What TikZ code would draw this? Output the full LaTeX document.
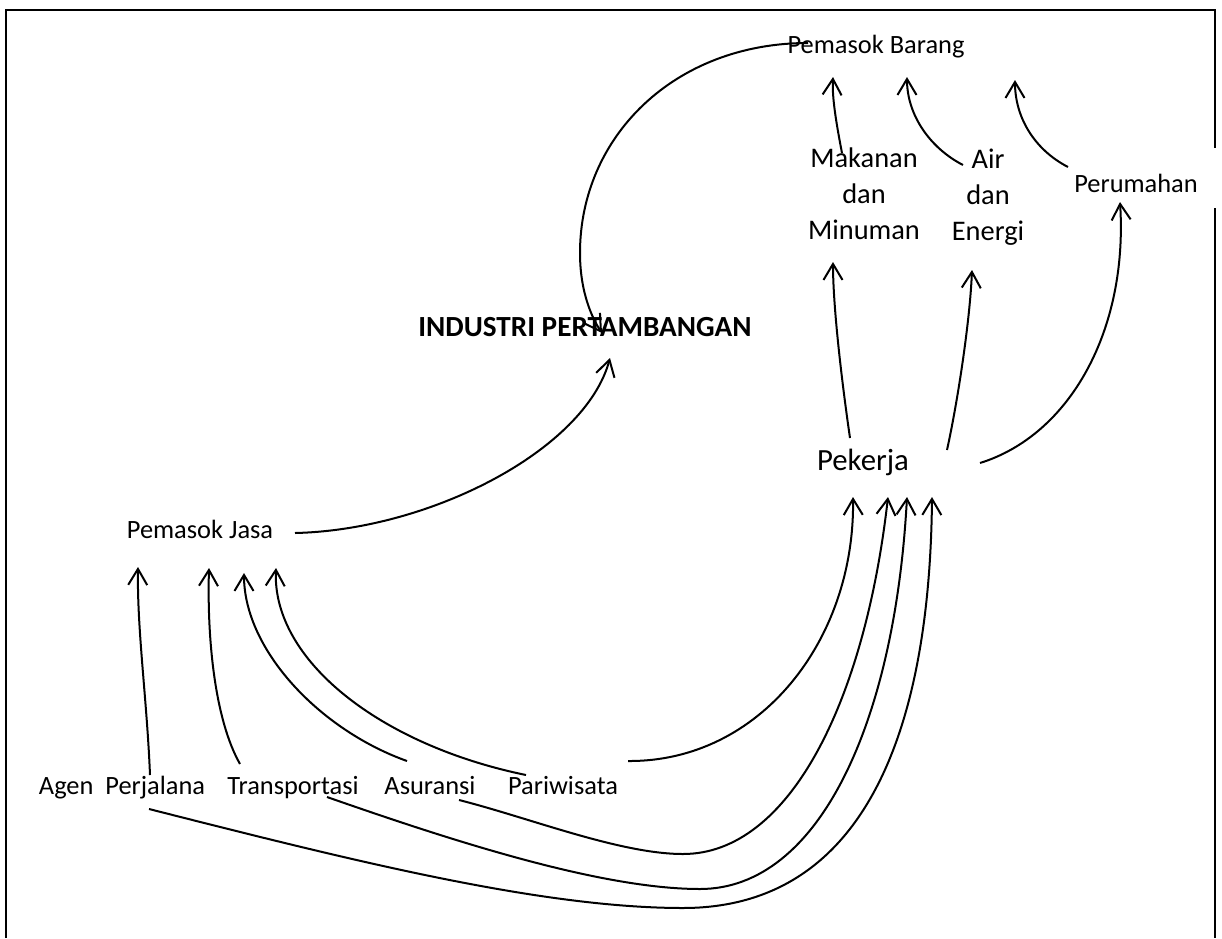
\documentclass[tikz,border=0pt]{standalone}
\usepackage{fontspec}
\setmainfont{Carlito}
\usetikzlibrary{arrows.meta,calc}

\begin{document}
\begin{tikzpicture}[
        x=0.5pt, y=-0.5pt,
        every node/.style={inner sep=0pt, outer sep=0pt, align=center},
        small/.style={font=\fontsize{13.2}{16}\selectfont},
        mid/.style={font=\fontsize{14.2}{18}\selectfont},
        big/.style={font=\fontsize{15.4}{18}\selectfont},
        title/.style={font=\fontsize{14.6}{18}\selectfont\bfseries},
        link/.style={line width=1pt, -{Straight Barb[length=8pt,width=9.5pt]}}
    ]
    \useasboundingbox (0,0) rectangle (1222,938);
    % frame (open at the bottom)
    \draw[line width=1.1pt] (6,938) -- (6,10) -- (1215,10) -- (1215,148);
    \draw[line width=1.1pt] (1215,208) -- (1215,938);

    % Top: goods suppliers
    \node[small] (barang) at (876,47) {Pemasok Barang};
    \node[mid] (mak) at (864,194) {Makanan\\dan\\Minuman};
    \node[mid] (air) at (988,197) {Air\\dan\\Energi};
    \node[small] (rum) at (1136,183) {Perumahan};
    % Middle
    \node[title] (ind) at (585,327) {INDUSTRI PERTAMBANGAN};
    \node[big] (pek) at (863,462) {Pekerja};
    \node[small] (jasa) at (200,529) {Pemasok Jasa};
    % Bottom: service suppliers (on one baseline)
    \node[small, anchor=base] (agen) at (122,794) {Agen\ \ Perjalana};
    \node[small, anchor=base] (trans) at (293,794) {Transportasi};
    \node[small, anchor=base] (asur) at (430,794) {Asuransi};
    \node[small, anchor=base] (pari) at (563,794) {Pariwisata};

    % into the industry
    \draw[link] ($(jasa)+(95,4)$) .. controls (430,530) and (585,450) .. ($(ind)+(25,31)$);
    \draw[link] ($(barang)+(-68,-4)$) .. controls (674,43) and (580,137) .. (580,253)
        .. controls (580,292) and (592,318) .. ($(ind)+(17,6)$);
    % into Pemasok Barang
    \draw[link] ($(mak)+(-22,-41)$) .. controls (836,122) and (832,97) .. ($(barang)+(-43,30)$);
    \draw[link] ($(air)+(-25,-32)$) .. controls (930,148) and (907,115) .. ($(barang)+(31,30)$);
    \draw[link] ($(rum)+(-68,-16)$) .. controls (1035,150) and (1015,118) .. ($(barang)+(139,33)$);
    % from Pekerja
    \draw[link] ($(pek)+(-13,-24)$) .. controls (843,390) and (833,310) .. ($(mak)+(-31,68)$);
    \draw[link] ($(pek)+(84,-12)$) .. controls (958,400) and (970,320) .. ($(air)+(-16,73)$);
    \draw[link] ($(pek)+(117,1)$) .. controls (1070,435) and (1128,330) .. ($(rum)+(-16,19)$);
    % into Pemasok Jasa
    \draw[link] ($(agen.base)+(28,-19)$) .. controls (147,700) and (137,630) .. ($(jasa)+(-62,38)$);
    \draw[link] ($(trans.base)+(-53,-30)$) .. controls (215,720) and (207,640) .. ($(jasa)+(9,39)$);
    \draw[link] ($(asur.base)+(-23,-33)$) .. controls (320,730) and (244,650) .. ($(jasa)+(44,44)$);
    \draw[link] ($(pari.base)+(-37,-19)$) .. controls (380,745) and (272,660) .. ($(jasa)+(76,39)$);
    % into Pekerja
    \draw[link] ($(pari.base)+(65,-33)$) .. controls (760,762) and (855,640) .. ($(pek)+(-10,35)$);
    \draw[link] ($(asur.base)+(29,6)$) .. controls (530,818) and (620,854) .. (683,854)
        .. controls (790,854) and (865,700) .. ($(pek)+(25,35)$);
    \draw[link] ($(trans.base)+(34,3)$) .. controls (450,840) and (600,889) .. (700,889)
        .. controls (820,889) and (895,720) .. ($(pek)+(44,35)$);
    \draw[link] ($(agen.base)+(27,15)$) .. controls (350,860) and (540,908) .. (683,908)
        .. controls (870,908) and (930,720) .. ($(pek)+(69,35)$);
\end{tikzpicture}
\end{document}
